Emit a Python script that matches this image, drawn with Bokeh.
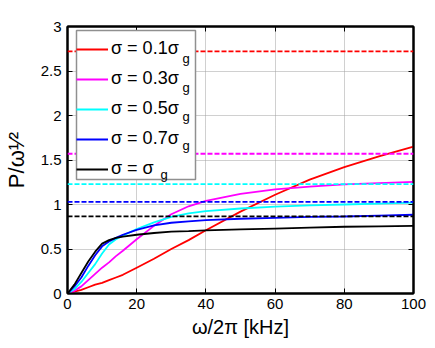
from bokeh.plotting import figure
from bokeh.models import (Range1d, Span, Legend, LegendItem, Label, LinearAxis,
                          FixedTicker, BoxAnnotation)
from bokeh.embed import file_html
from bokeh.resources import INLINE

# ---------------- data ----------------
freq_khz = [0, 2, 4, 6, 8, 10, 12, 14, 16, 20, 25, 30, 35, 40, 50, 60, 70, 80, 90, 100]

p_sigma_01 = [0, 0.02, 0.04, 0.07, 0.10, 0.12, 0.15, 0.18, 0.21, 0.29, 0.39, 0.50,
              0.60, 0.71, 0.92, 1.11, 1.28, 1.42, 1.54, 1.65]
p_sigma_03 = [0, 0.03, 0.08, 0.15, 0.22, 0.29, 0.35, 0.42, 0.48, 0.61, 0.76, 0.89,
              0.98, 1.04, 1.12, 1.17, 1.20, 1.225, 1.24, 1.255]
p_sigma_05 = [0, 0.05, 0.13, 0.23, 0.33, 0.45, 0.55, 0.61, 0.65, 0.725, 0.80, 0.86,
              0.90, 0.925, 0.955, 0.975, 0.99, 1.00, 1.01, 1.02]
p_sigma_07 = [0, 0.08, 0.18, 0.31, 0.43, 0.53, 0.585, 0.625, 0.66, 0.715, 0.765, 0.795,
              0.81, 0.825, 0.84, 0.85, 0.86, 0.865, 0.875, 0.885]
p_sigma_10 = [0, 0.10, 0.23, 0.36, 0.47, 0.56, 0.60, 0.625, 0.64, 0.66, 0.68, 0.695,
              0.70, 0.71, 0.72, 0.73, 0.74, 0.75, 0.755, 0.76]

# asymptotic levels (dashed)
asymptotes = [2.72, 1.57, 1.23, 1.03, 0.866]

series_values = [p_sigma_01, p_sigma_03, p_sigma_05, p_sigma_07, p_sigma_10]
series_labels = ["σ = 0.1σ", "σ = 0.3σ", "σ = 0.5σ", "σ = 0.7σ", "σ = σ"]
series_colors = ["#ff0000", "#ff00ff", "#00ffff", "#0000ff", "#000000"]

x_ticks = [0, 20, 40, 60, 80, 100]
x_tick_labels = ["0", "20", "40", "60", "80", "100"]
y_ticks = [0, 0.5, 1, 1.5, 2, 2.5, 3]
y_tick_labels = ["0", "0.5", "1", "1.5", "2", "2.5", "3"]

FONT = "Liberation Sans"

# ---------------- figure ----------------
p = figure(width=430, height=340,
           x_range=Range1d(0, 100), y_range=Range1d(0, 3),
           output_backend="svg", toolbar_location=None,
           min_border_left=67, min_border_right=17,
           min_border_top=26, min_border_bottom=46)
p.background_fill_color = "white"
p.border_fill_color = "white"
p.outline_line_color = "black"
p.outline_line_width = 2

# grid
for g in (p.xgrid, p.ygrid):
    g.grid_line_color = "#a0a0a0"
    g.grid_line_dash = "1 1"
    g.grid_line_width = 1
p.xgrid.ticker = FixedTicker(ticks=x_ticks)
p.ygrid.ticker = FixedTicker(ticks=y_ticks)

def style_axis(ax, ticks, labels):
    ax.ticker = FixedTicker(ticks=ticks)
    ax.major_label_overrides = dict(zip(ticks, labels))
    ax.major_tick_in = 5
    ax.major_tick_out = 0
    ax.minor_tick_line_color = None
    ax.major_tick_line_color = "black"
    ax.axis_line_color = "black"
    ax.axis_line_width = 2
    ax.major_label_text_font = FONT
    ax.major_label_text_font_size = "15px"
    ax.major_label_text_color = "black"

style_axis(p.xaxis[0], x_ticks, x_tick_labels)
style_axis(p.yaxis[0], y_ticks, y_tick_labels)
p.xaxis.major_label_standoff = 5
p.yaxis.major_label_standoff = 6
p.xaxis.axis_label = "ω/2π [kHz]"
p.xaxis.axis_label_text_font = FONT
p.xaxis.axis_label_text_font_size = "20px"
p.xaxis.axis_label_text_font_style = "normal"
p.xaxis.axis_label_text_color = "black"
p.xaxis.axis_label_standoff = 4
p.yaxis.axis_label = "P/ω¹⁄²"
p.yaxis.axis_label_text_font = FONT
p.yaxis.axis_label_text_font_size = "22px"
p.yaxis.axis_label_text_font_style = "normal"
p.yaxis.axis_label_text_color = "black"
p.yaxis.axis_label_standoff = 9

# right / top axes with inward ticks only
ax_r = LinearAxis()
style_axis(ax_r, y_ticks, [""] * len(y_ticks))
ax_r.major_label_standoff = 0
p.add_layout(ax_r, "right")
ax_t = LinearAxis()
style_axis(ax_t, x_ticks, [""] * len(x_ticks))
ax_t.major_label_standoff = 0
p.add_layout(ax_t, "above")

# dashed asymptotes
for lvl, col in zip(asymptotes, series_colors):
    p.add_layout(Span(location=lvl, dimension="width", line_color=col,
                      line_dash="5 2", line_width=1.8))

# curves
renderers = []
for vals, col in zip(series_values, series_colors):
    r = p.line(freq_khz, vals, line_color=col, line_width=1.8)
    renderers.append(r)

# legend frame
p.add_layout(BoxAnnotation(left=9, right=128, bottom=114, top=263,
                           left_units="screen", right_units="screen",
                           top_units="screen", bottom_units="screen",
                           fill_color="white", fill_alpha=1.0,
                           line_color="#909090", line_width=1.5, line_alpha=1.0))

# subscript "g" of each legend entry
g_x = [115, 115, 115, 115, 93]
for i, gx in enumerate(g_x):
    p.add_layout(Label(x=gx, y=235 - 29 * i, x_units="screen", y_units="screen",
                       text="g", text_font=FONT, text_font_size="13px",
                       text_color="black", text_baseline="alphabetic"))

legend = Legend(items=[LegendItem(label=lab, renderers=[r])
                       for lab, r in zip(series_labels, renderers)],
                location=(9, 114), orientation="vertical",
                padding=7, spacing=9, margin=0,
                glyph_width=32, glyph_height=20, label_height=20,
                label_width=70, label_standoff=3,
                label_text_font=FONT, label_text_font_size="18px",
                label_text_color="black",
                border_line_color=None, background_fill_alpha=0.0)
p.add_layout(legend)

open("out.html", "w").write(file_html(p, INLINE))
